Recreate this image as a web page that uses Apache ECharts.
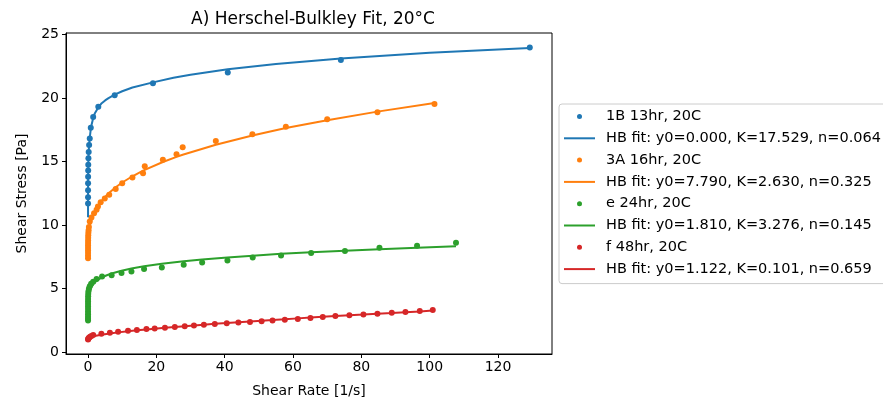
<!DOCTYPE html>
<html>
<head>
<meta charset="utf-8">
<script src="https://cdn.jsdelivr.net/npm/echarts@6/dist/echarts.min.js"></script>
<style>
html,body{margin:0;padding:0;background:#fff;}
#chart{width:883px;height:399px;}
</style>
</head>
<body>
<div id="chart"></div>
<script>
// ---- data ----
const xTicks = [0, 20, 40, 60, 80, 100, 120];
const yTicks = [0, 5, 10, 15, 20, 25];

const names = ["1B 13hr, 20C", "HB fit: y0=0.000, K=17.529, n=0.064",
               "3A 16hr, 20C", "HB fit: y0=7.790, K=2.630, n=0.325",
               "e 24hr, 20C",  "HB fit: y0=1.810, K=3.276, n=0.145",
               "f 48hr, 20C",  "HB fit: y0=1.122, K=0.101, n=0.659"];
const colors = ["#1f77b4", "#ff7f0e", "#2ca02c", "#d62728"];

// 1B 13hr
const bX    = [0.002, 0.0035, 0.007, 0.013, 0.024, 0.042, 0.067, 0.11, 0.19, 0.32, 0.5, 0.8, 1.5, 3.0, 7.8, 19.0, 40.9, 74.0, 129.3];
const bY    = [11.7, 12.2, 12.75, 13.3, 13.8, 14.3, 14.75, 15.25, 15.75, 16.3, 16.8, 17.65, 18.5, 19.3, 20.2, 21.15, 22.0, 22.97, 23.97];
const bFitX = [0.0004, 0.002, 0.007, 0.024, 0.067, 0.19, 0.32, 0.5, 0.8, 1.0, 1.5, 2.0, 3.0, 4.0, 5.0, 6.0, 7.8, 10.0, 13.0, 19.0, 25.0, 30.0, 40.9, 55.0, 74.0, 100.0, 129.3];
const bFit  = [10.62, 11.78, 12.76, 13.81, 14.74, 15.76, 16.30, 16.85, 17.55, 17.85, 18.40, 18.80, 19.25, 19.58, 19.80, 19.98, 20.25, 20.52, 20.82, 21.22, 21.58, 21.82, 22.25, 22.67, 23.10, 23.55, 23.93];

// 3A 16hr
const oX   = [0.001, 0.0016, 0.0025, 0.004, 0.0063, 0.01, 0.016, 0.025, 0.04, 0.063, 0.1, 0.16, 0.25, 0.5, 1.0, 1.76, 2.5, 2.9, 3.7, 4.9, 6.2, 8.1, 10.0, 13.0, 16.1, 16.6, 21.9, 25.9, 27.7, 37.4, 48.1, 57.9, 70.0, 84.7, 101.4];
const oY   = [7.4, 7.6, 7.8, 8.0, 8.2, 8.4, 8.6, 8.8, 9.0, 9.2, 9.4, 9.6, 9.85, 10.28, 10.6, 10.94, 11.2, 11.46, 11.8, 12.09, 12.38, 12.83, 13.3, 13.74, 14.08, 14.63, 15.13, 15.57, 16.12, 16.62, 17.14, 17.74, 18.32, 18.87, 19.52];
const oFit = [8.07, 8.11, 8.17, 8.23, 8.30, 8.38, 8.48, 8.58, 8.71, 8.86, 9.03, 9.24, 9.47, 9.89, 10.42, 10.95, 11.33, 11.51, 11.81, 12.20, 12.55, 12.98, 13.35, 13.84, 14.28, 14.34, 14.96, 15.36, 15.53, 16.32, 17.05, 17.63, 18.25, 18.92, 19.59];

// e 24hr
const gX    = [0.00001, 0.00002, 0.00005, 0.0001, 0.0003, 0.0007, 0.0015, 0.003, 0.007, 0.015, 0.03, 0.06, 0.12, 0.25, 0.5, 0.9, 1.5, 2.5, 4.1, 6.9, 9.8, 12.7, 16.4, 21.6, 28.0, 33.4, 40.8, 48.2, 56.5, 65.3, 75.2, 85.3, 96.3, 107.7];
const gY    = [2.5, 2.65, 2.8, 3.0, 3.2, 3.4, 3.6, 3.8, 4.0, 4.2, 4.4, 4.6, 4.8, 5.0, 5.2, 5.4, 5.55, 5.76, 5.97, 6.05, 6.23, 6.36, 6.55, 6.67, 6.88, 7.06, 7.22, 7.46, 7.62, 7.80, 7.96, 8.22, 8.38, 8.61];
const gFitX = [0.00001, 0.0001, 0.001, 0.01, 0.05, 0.2, 0.5, 1.0, 1.6, 2.5, 3.3, 4.1, 5.5, 6.9, 9.8, 12.7, 16.4, 21.6, 28.0, 33.4, 40.8, 48.2, 56.5, 65.3, 75.2, 85.3, 96.3, 107.7];
const gFit  = [2.43, 2.67, 3.01, 3.49, 3.93, 4.40, 4.77, 5.12, 5.40, 5.62, 5.77, 5.90, 6.06, 6.20, 6.42, 6.59, 6.76, 6.96, 7.16, 7.30, 7.46, 7.60, 7.74, 7.87, 7.99, 8.11, 8.22, 8.33];

// f 48hr
const rX    = [0.01, 0.05, 0.15, 0.3, 0.6, 1.0, 1.5, 3.9, 6.4, 8.8, 11.7, 14.3, 17.1, 19.5, 22.5, 25.4, 28.3, 31.0, 33.9, 37.1, 40.6, 44.0, 47.4, 50.8, 54.0, 57.6, 61.4, 65.1, 68.7, 72.4, 76.5, 80.6, 84.7, 88.9, 92.9, 97.1, 100.9];
const rY    = [1.0, 1.05, 1.1, 1.15, 1.22, 1.28, 1.36, 1.47, 1.54, 1.62, 1.70, 1.76, 1.83, 1.88, 1.94, 2.0, 2.05, 2.11, 2.16, 2.23, 2.29, 2.35, 2.39, 2.45, 2.51, 2.57, 2.63, 2.70, 2.77, 2.85, 2.91, 2.97, 3.04, 3.11, 3.18, 3.25, 3.33];
const rFitX = [0, 0.1, 0.5, 1.5, 3.9, 6.4, 8.8, 11.7, 14.3, 17.1, 19.5, 22.5, 25.4, 28.3, 31.0, 33.9, 37.1, 40.6, 44.0, 47.4, 50.8, 54.0, 57.6, 61.4, 65.1, 68.7, 72.4, 76.5, 80.6, 84.7, 88.9, 92.9, 97.1, 100.9];
const rFit  = [1.122, 1.15, 1.20, 1.27, 1.39, 1.49, 1.57, 1.66, 1.73, 1.80, 1.86, 1.93, 1.99, 2.06, 2.11, 2.17, 2.24, 2.30, 2.37, 2.43, 2.49, 2.54, 2.60, 2.67, 2.73, 2.79, 2.85, 2.91, 2.97, 3.04, 3.10, 3.16, 3.22, 3.28];

// ---- build ----
const zip = (xs, ys) => xs.map((x, i) => [x, ys[i]]);
const FONT = "DejaVu Sans";
const groups = [
  [bX, bY, bFitX, bFit],
  [oX, oY, oX, oFit],
  [gX, gY, gFitX, gFit],
  [rX, rY, rFitX, rFit]
];
const series = [];
groups.forEach((g, i) => {
  series.push({
    name: names[2*i], type: 'scatter', data: zip(g[0], g[1]),
    symbol: 'circle', symbolSize: 6,
    itemStyle: {color: colors[i], opacity: 1},
    emphasis: {disabled: true}, animation: false
  });
  series.push({
    name: names[2*i+1], type: 'line', data: zip(g[2], g[3]),
    symbol: 'none', showSymbol: false, smooth: false,
    lineStyle: {color: colors[i], width: 2},
    itemStyle: {color: colors[i]},
    emphasis: {disabled: true}, animation: false
  });
});

const legendData = names.map((n, k) => k % 2 === 0
  ? {name: n, icon: 'circle'}
  : {name: n, itemStyle: {color: 'rgba(0,0,0,0)', borderColor: 'rgba(0,0,0,0)', borderWidth: 0, opacity: 0},
     lineStyle: {color: colors[(k - 1) / 2], width: 2, opacity: 1}});

const chart = echarts.init(document.getElementById('chart'), null, {renderer: 'canvas'});
chart.setOption({
  backgroundColor: '#ffffff',
  animation: false,
  textStyle: {fontFamily: FONT},
  title: {
    text: 'A) Herschel-Bulkley Fit, 20°C',
    left: 308, top: 6, textAlign: 'center',
    textStyle: {fontFamily: FONT, fontSize: 17, fontWeight: 'normal', color: '#000'}
  },
  grid: {left: 66, top: 33, width: 486, height: 321, containLabel: false, outerBoundsMode: 'none',
         show: true, borderColor: '#000', borderWidth: 1, backgroundColor: 'transparent'},
  xAxis: {
    type: 'value', min: -6.45, max: 135.8,
    name: 'Shear Rate [1/s]', nameLocation: 'middle', nameGap: 30,
    nameTextStyle: {fontFamily: FONT, fontSize: 14, color: '#000'},
    axisLine: {show: true, onZero: false, lineStyle: {color: '#000', width: 1}},
    axisTick: {show: true, length: 4, lineStyle: {color: '#000'}, customValues: xTicks},
    axisLabel: {fontFamily: FONT, fontSize: 14, color: '#000', margin: 6, customValues: xTicks},
    splitLine: {show: false}
  },
  yAxis: {
    type: 'value', min: -0.13, max: 25.1,
    name: 'Shear Stress [Pa]', nameLocation: 'middle', nameGap: 37, nameRotate: 90,
    nameTextStyle: {fontFamily: FONT, fontSize: 14, color: '#000'},
    axisLine: {show: true, onZero: false, lineStyle: {color: '#000', width: 1}},
    axisTick: {show: true, length: 4, lineStyle: {color: '#000'}, customValues: yTicks},
    axisLabel: {fontFamily: FONT, fontSize: 14, color: '#000', margin: 7, customValues: yTicks},
    splitLine: {show: false}
  },
  legend: {
    orient: 'vertical', left: 559, top: 104,
    padding: [5, 14, 7, 4], itemGap: 6.8,
    itemWidth: 31, itemHeight: 5,
    borderColor: '#cccccc', borderWidth: 1, borderRadius: 3, backgroundColor: '#ffffff',
    textStyle: {fontFamily: FONT, fontSize: 14.5, color: '#000', lineHeight: 14, padding: [0, 0, 0, 6]},
    data: legendData,
    selectedMode: false
  },
  series: series
});
</script>
</body>
</html>
